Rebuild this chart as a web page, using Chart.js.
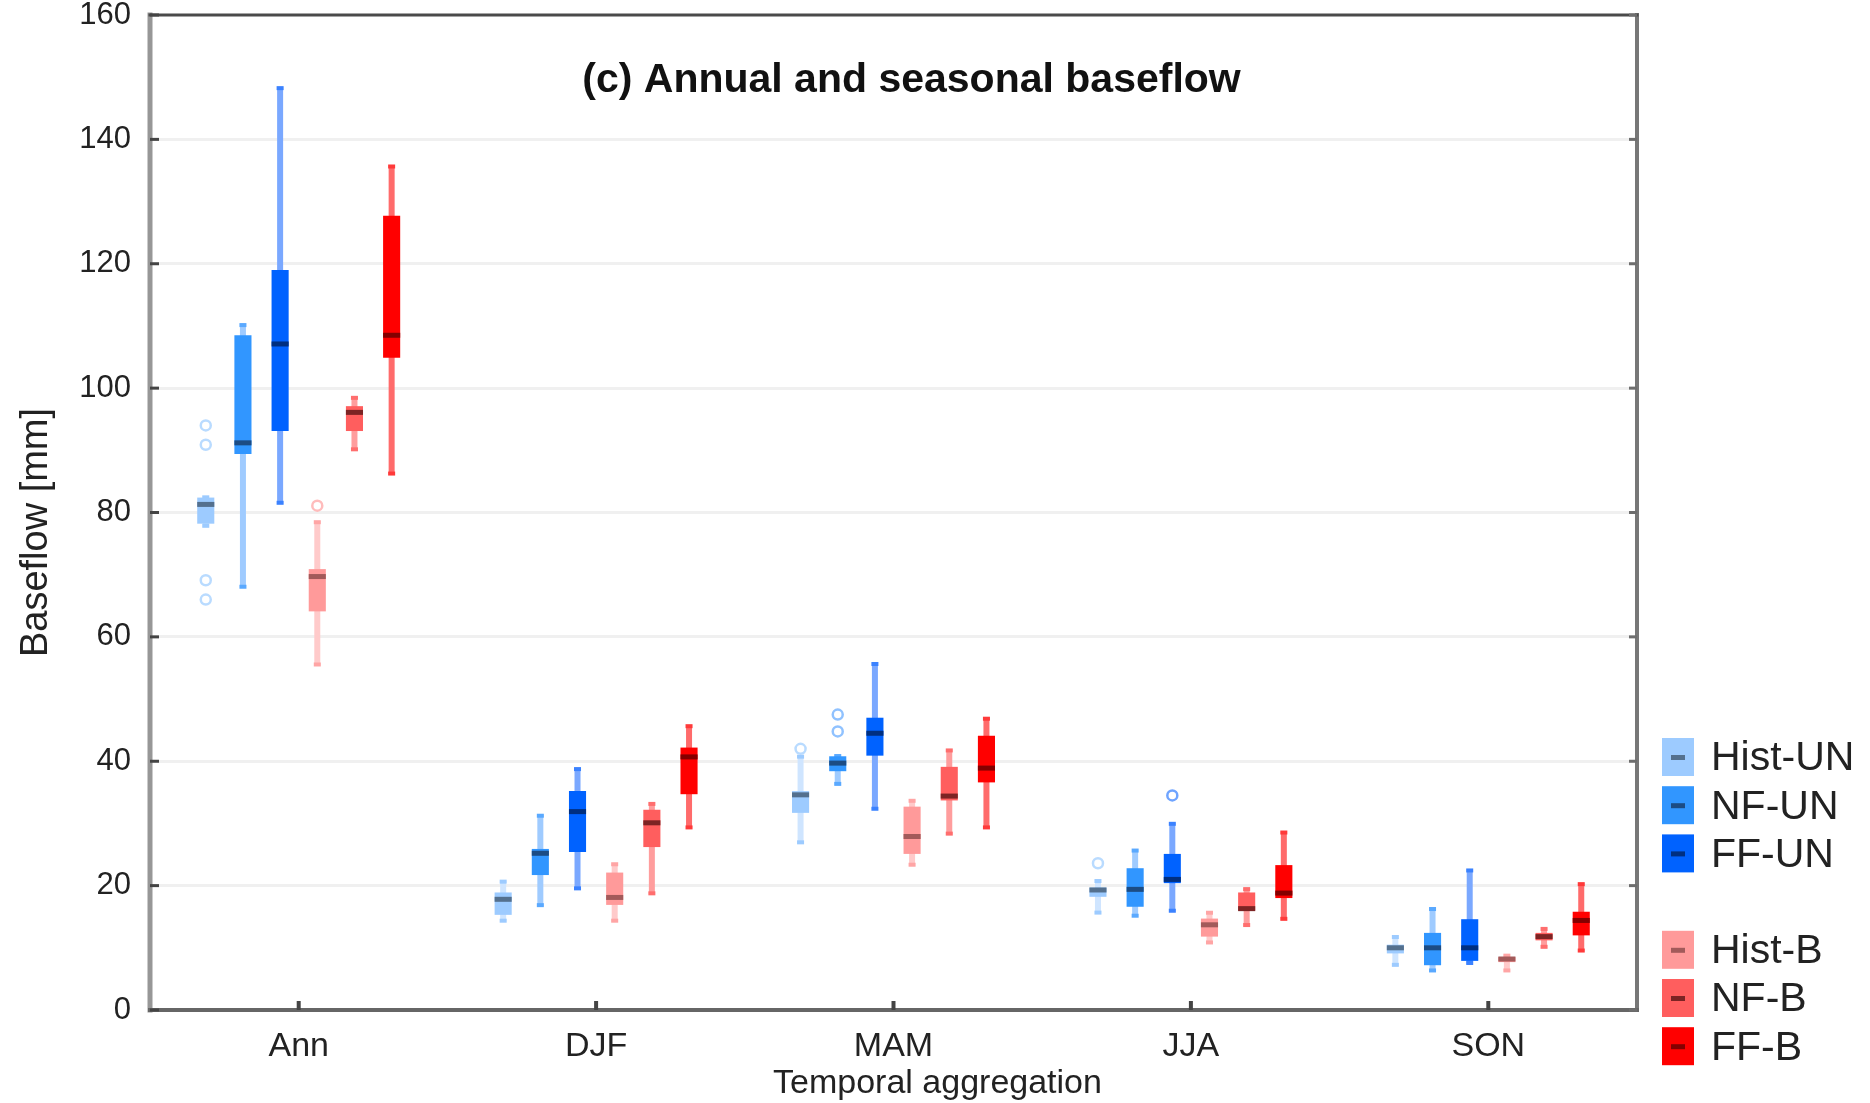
<!DOCTYPE html>
<html>
<head>
<meta charset="utf-8">
<title>Annual and seasonal baseflow</title>
<script src="https://cdn.jsdelivr.net/npm/chart.js@4.4.1/dist/chart.umd.min.js"></script>
<style>
  html, body { margin: 0; padding: 0; background: #ffffff; }
  #wrap { width: 1870px; height: 1103px; }
</style>
</head>
<body>
<div id="wrap"><canvas id="baseflowChart"></canvas></div>
<script>
// Categories et séries
const categories = ['Ann', 'DJF', 'MAM', 'JJA', 'SON'];
const yTicks = [0, 20, 40, 60, 80, 100, 120, 140, 160];

// Statistiques par catégorie : [moustache basse, q1, médiane, q3, moustache haute]
const histUN = [[77.7, 78.2, 81.3, 82.4, 82.6], [14.2, 15.3, 17.8, 18.9, 20.8], [26.8, 31.7, 34.6, 35.2, 40.9], [15.5, 18.2, 19.3, 19.7, 20.9], [7.1, 9.1, 10.0, 10.5, 11.9]];
const nfUN   = [[67.9, 89.4, 91.2, 108.5, 110.3], [16.7, 21.7, 25.2, 25.9, 31.4], [36.2, 38.4, 39.7, 40.8, 41.0], [15.0, 16.6, 19.4, 22.8, 25.8], [6.2, 7.2, 10.0, 12.4, 16.4]];
const ffUN   = [[81.4, 93.1, 107.1, 119.0, 148.4], [19.4, 25.4, 31.9, 35.2, 38.9], [32.2, 40.9, 44.5, 47.0, 55.8], [15.8, 20.4, 21.0, 25.1, 30.1], [7.4, 7.9, 10.0, 14.6, 22.6]];
const histB  = [[55.4, 64.1, 69.7, 70.9, 78.6], [14.2, 16.9, 18.1, 22.1, 23.6], [23.2, 25.1, 27.9, 32.7, 33.8], [10.7, 11.8, 13.7, 14.7, 15.8], [6.2, 7.7, 8.2, 8.5, 8.9]];
const nfB    = [[90.0, 93.1, 96.1, 97.1, 98.6], [18.6, 26.2, 30.1, 32.2, 33.3], [28.2, 33.7, 34.4, 39.1, 41.9], [13.5, 16.0, 16.3, 18.9, 19.6], [10.0, 11.2, 11.8, 12.4, 13.2]];
const ffB    = [[86.1, 104.9, 108.5, 127.7, 135.8], [29.2, 34.7, 40.7, 42.2, 45.8], [29.2, 36.6, 38.9, 44.1, 47.0], [14.5, 18.0, 18.8, 23.3, 28.7], [9.4, 12.0, 14.4, 15.8, 20.4]];

// Valeurs aberrantes (cercles vides)
const histUNOut = [[94.0, 90.9, 69.1, 66.0], [], [42.0], [23.6], []];
const nfUNOut   = [[], [], [47.5, 44.8], [], []];
const ffUNOut   = [[], [], [], [34.5], []];
const histBOut  = [[81.1], [], [], [], []];
const nfBOut    = [[], [], [], [], []];
const ffBOut    = [[], [], [], [], []];

const FONT = '"Liberation Sans", Arial, sans-serif';

const SERIES = [
    { label: 'Hist-UN', stats: histUN, outliers: histUNOut, box: '#9dcbff', median: '#54708e', whisker: '#cfe5ff', cap: '#9dcbff', ring: '#b9dbff' },
    { label: 'NF-UN',   stats: nfUN,   outliers: nfUNOut,   box: '#3196ff', median: '#1c4c84', whisker: '#9fcbff', cap: '#5aa9ff', ring: '#90c2ff' },
    { label: 'FF-UN',   stats: ffUN,   outliers: ffUNOut,   box: '#0062ff', median: '#002f80', whisker: '#7aa8ff', cap: '#3b82ff', ring: '#6fa4ff' },
    { label: 'Hist-B',  stats: histB,  outliers: histBOut,  box: '#ff9a9a', median: '#a25a5a', whisker: '#ffcaca', cap: '#ffa5a5', ring: '#ffbcbc' },
    { label: 'NF-B',    stats: nfB,    outliers: nfBOut,    box: '#ff5e5e', median: '#7c2424', whisker: '#ff9d9d', cap: '#ff6e6e', ring: '#ff9d9d' },
    { label: 'FF-B',    stats: ffB,    outliers: ffBOut,    box: '#ff0000', median: '#840000', whisker: '#ff6b6b', cap: '#ff3a3a', ring: '#ff7070' }
];

// Moustaches, médianes, aberrants, cadre et légende
const boxPlotExtras = {
    id: 'boxPlotExtras',
    beforeDatasetsDraw(chart) {
        const ctx = chart.ctx;
        const y = chart.scales.y;
        chart.data.datasets.forEach((ds, di) => {
            const meta = chart.getDatasetMeta(di);
            meta.data.forEach((bar, i) => {
                const s = ds.stats[i];
                const top = y.getPixelForValue(s[4]);
                const bottom = y.getPixelForValue(s[0]);
                ctx.fillStyle = ds.whiskerColor;
                ctx.fillRect(bar.x - 3, top, 6, bottom - top);
                ctx.fillStyle = ds.capColor;
                ctx.fillRect(bar.x - 3.5, top - 1, 7, 4);
                ctx.fillRect(bar.x - 3.5, bottom - 3, 7, 4);
            });
        });
    },
    afterDatasetsDraw(chart) {
        const ctx = chart.ctx;
        const y = chart.scales.y;
        chart.data.datasets.forEach((ds, di) => {
            const meta = chart.getDatasetMeta(di);
            meta.data.forEach((bar, i) => {
                const s = ds.stats[i];
                const my = y.getPixelForValue(s[2]);
                ctx.fillStyle = ds.medianColor;
                ctx.fillRect(bar.x - bar.width / 2, my - 2.5, bar.width, 5);
                ctx.strokeStyle = ds.ringColor;
                ctx.lineWidth = 2.5;
                ds.outliers[i].forEach(v => {
                    ctx.beginPath();
                    ctx.arc(bar.x, y.getPixelForValue(v), 5, 0, Math.PI * 2);
                    ctx.stroke();
                });
            });
        });
    },
    afterDraw(chart) {
        const ctx = chart.ctx;
        const area = chart.chartArea;
        const x = chart.scales.x;
        const y = chart.scales.y;
        ctx.save();

        // cadre
        ctx.lineCap = 'square';
        ctx.strokeStyle = '#979797';
        ctx.lineWidth = 5;
        ctx.beginPath(); ctx.moveTo(area.left, area.top); ctx.lineTo(area.left, area.bottom); ctx.stroke();
        ctx.strokeStyle = '#777777';
        ctx.lineWidth = 4;
        ctx.beginPath(); ctx.moveTo(area.right, area.top); ctx.lineTo(area.right, area.bottom); ctx.stroke();
        ctx.strokeStyle = '#4a4a4a';
        ctx.lineWidth = 3;
        ctx.beginPath(); ctx.moveTo(area.left, area.top); ctx.lineTo(area.right, area.top); ctx.stroke();
        ctx.strokeStyle = '#666666';
        ctx.lineWidth = 4;
        ctx.beginPath(); ctx.moveTo(area.left, area.bottom); ctx.lineTo(area.right, area.bottom); ctx.stroke();

        // graduations vers l'intérieur
        ctx.lineCap = 'butt';
        ctx.lineWidth = 3;
        yTicks.forEach(v => {
            const py = y.getPixelForValue(v);
            ctx.strokeStyle = '#444444';
            ctx.beginPath(); ctx.moveTo(area.left, py); ctx.lineTo(area.left + 9, py); ctx.stroke();
            ctx.strokeStyle = '#6e6e6e';
            ctx.beginPath(); ctx.moveTo(area.right, py); ctx.lineTo(area.right - 8, py); ctx.stroke();
        });
        ctx.lineWidth = 4;
        ctx.strokeStyle = '#444444';
        categories.forEach((c, i) => {
            const px = x.getPixelForValue(i);
            ctx.beginPath(); ctx.moveTo(px, area.bottom); ctx.lineTo(px, area.bottom - 9); ctx.stroke();
        });

        // titres
        ctx.fillStyle = '#111111';
        ctx.textAlign = 'center';
        ctx.textBaseline = 'middle';
        ctx.font = 'bold 41px ' + FONT;
        ctx.fillText('(c) Annual and seasonal baseflow', (area.left + area.right) / 2 + 18, area.top + 66);
        ctx.fillStyle = '#222222';
        ctx.font = '34px ' + FONT;
        ctx.fillText('Temporal aggregation', (area.left + area.right) / 2 + 44, area.bottom + 74);
        ctx.save();
        ctx.translate(37, (area.top + area.bottom) / 2 + 20);
        ctx.rotate(-Math.PI / 2);
        ctx.font = '38px ' + FONT;
        ctx.fillText('Baseflow [mm]', 0, 0);
        ctx.restore();

        // légende
        const legendRows = [0, 1, 2, 4, 5, 6];
        const lx = area.right + 25;
        const ly0 = area.bottom - 253;
        ctx.textAlign = 'left';
        ctx.font = '41px ' + FONT;
        chart.data.datasets.forEach((ds, di) => {
            const cy = ly0 + legendRows[di] * 48.2;
            ctx.fillStyle = ds.backgroundColor;
            ctx.fillRect(lx, cy - 19, 32, 38);
            ctx.fillStyle = ds.medianColor;
            ctx.fillRect(lx + 9, cy - 2, 14, 5);
            ctx.fillStyle = '#222222';
            ctx.fillText(ds.label, lx + 49, cy + 2);
        });
        ctx.restore();
    }
};

function buildDatasets() {
    return SERIES.map(s => ({
        label: s.label,
        data: s.stats.map(st => [st[1], st[3]]),
        stats: s.stats,
        outliers: s.outliers,
        backgroundColor: s.box,
        medianColor: s.median,
        whiskerColor: s.whisker,
        capColor: s.cap,
        ringColor: s.ring,
        borderWidth: 0,
        borderSkipped: false,
        barPercentage: 0.46,
        categoryPercentage: 0.75
    }));
}

function initBaseflowChart() {
    const ctx = document.getElementById('baseflowChart').getContext('2d');
    return new Chart(ctx, {
        type: 'bar',
        data: {
            labels: categories,
            datasets: buildDatasets()
        },
        options: {
            responsive: true,
            maintainAspectRatio: false,
            animation: false,
            events: [],
            layout: {
                padding: { left: 0, top: 15, right: 233, bottom: 0 }
            },
            plugins: {
                legend: { display: false },
                tooltip: { enabled: false }
            },
            scales: {
                x: {
                    type: 'category',
                    offset: true,
                    afterFit: scale => {
                        scale.height = 93;
                        scale.paddingLeft = 0;
                        scale.paddingRight = 0;
                    },
                    grid: { display: false, drawTicks: false },
                    border: { display: false },
                    ticks: {
                        color: '#222222',
                        padding: 16,
                        maxRotation: 0,
                        font: { family: FONT, size: 34 }
                    }
                },
                y: {
                    min: 0,
                    max: 160,
                    afterFit: scale => {
                        scale.width = 150;
                        scale.paddingTop = 0;
                        scale.paddingBottom = 0;
                    },
                    afterBuildTicks: scale => { scale.ticks = yTicks.map(v => ({ value: v })); },
                    grid: {
                        drawTicks: false,
                        lineWidth: 3,
                        color: c => (c.tick && (c.tick.value === 0 || c.tick.value === 160)) ? 'rgba(0,0,0,0)' : '#f0f0f0'
                    },
                    border: { display: false },
                    ticks: {
                        color: '#222222',
                        padding: 19,
                        font: { family: FONT, size: 31 }
                    }
                }
            }
        },
        plugins: [boxPlotExtras]
    });
}

document.addEventListener('DOMContentLoaded', initBaseflowChart);
</script>
</body>
</html>
